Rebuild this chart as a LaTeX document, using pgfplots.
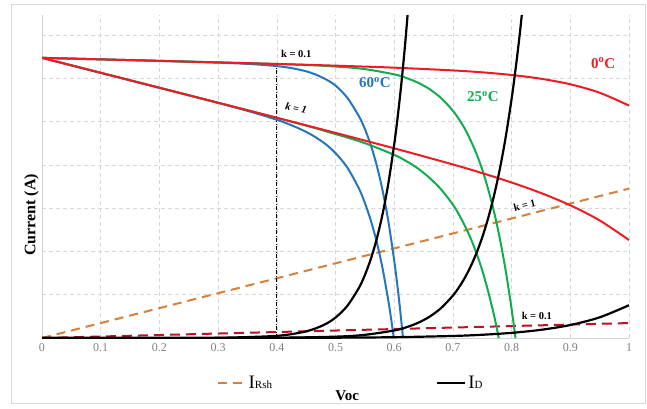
\documentclass[border=0pt]{standalone}
\usepackage{pgfplots}
\pgfplotsset{compat=1.18}
\usepackage{fontspec}
\setmainfont{Liberation Serif}

\definecolor{cRed}{RGB}{236,28,36}
\definecolor{cBlue}{RGB}{38,118,188}
\definecolor{cGreen}{RGB}{16,172,80}
\definecolor{cOrange}{RGB}{214,128,58}
\definecolor{cDarkRed}{RGB}{192,16,40}
\definecolor{cGrid}{RGB}{215,215,215}

\begin{document}
\begin{tikzpicture}[x=1pt,y=1pt]
\useasboundingbox (0,0) rectangle (647,408);
\draw[color=gray!30, line width=0.8pt] (11,5) rectangle (645,404);
\begin{axis}[
  at={(42pt,70pt)}, anchor=south west,
  scale only axis, width=587pt, height=323pt,
  xmin=0, xmax=1, ymin=0, ymax=7.46,
  xtick={0,0.1,0.2,0.3,0.4,0.5,0.6,0.7,0.8,0.9,1},
  ytick={1,2,3,4,5,6,7}, yticklabels={},
  /pgf/number format/assume math mode=true,
  ticklabel style={font=\fontsize{12}{12}\selectfont, text=gray},
  xticklabel style={yshift=-2pt},
  major tick length=0pt,
  grid=major,
  major grid style={dash pattern=on 4pt off 3pt, color=cGrid, line width=0.6pt},
  axis x line*=bottom, axis y line*=left,
  axis line style={color=gray!35, line width=0.8pt, -},
  clip=true,
  xlabel={\bfseries Voc},
  xlabel style={font=\fontsize{15}{15}\selectfont, at={(axis description cs:0.520,-0.178)}, anchor=center},
  ylabel={\bfseries Current (A)},
  ylabel style={font=\fontsize{16}{16}\selectfont, at={(axis description cs:-0.018,0.381)}, anchor=center, rotate=0},
  legend style={at={(axis description cs:0.292,-0.140)}, anchor=west, draw=none, fill=none,
    font=\fontsize{19}{19}\selectfont, legend columns=2,
    /tikz/every even column/.append style={column sep=162pt}},
  legend image code/.code={\draw[#1] (0pt,0pt) -- (28pt,0pt);},
]

% shunt currents I_Rsh for k = 1 and k = 0.1
\addplot[forget plot, color=cOrange, line width=2pt, dash pattern=on 9pt off 6pt] coordinates {(0,0) (1,3.45)};
\addplot[forget plot, color=cDarkRed, line width=2pt, dash pattern=on 10pt off 6pt] coordinates {(0,0) (1,0.345)};

% reference voltage
\addplot[forget plot, black, line width=0.7pt, dash pattern=on 4pt off 1.5pt on 1pt off 1.5pt] coordinates {(0.4,0) (0.4,6.33)};

% 60 C, k = 0.1 and k = 1
\addplot[forget plot, color=cBlue, line width=2pt, smooth] coordinates {
 (0,6.47) (0.3,6.36) (0.4,6.28) (0.45,6.16) (0.48,6.00) (0.5,5.83) (0.52,5.55)
 (0.54,5.12) (0.55,4.83) (0.56,4.46) (0.57,4.00) (0.58,3.42) (0.59,2.70)
 (0.6,1.79) (0.605,1.26) (0.61,0.665) (0.615,0)};
\addplot[forget plot, color=cBlue, line width=2pt, smooth] coordinates {
 (0,6.47) (0.3,5.43) (0.4,5.04) (0.45,4.76) (0.48,4.51) (0.5,4.27) (0.52,3.94)
 (0.54,3.45) (0.55,3.12) (0.56,2.72) (0.57,2.23) (0.58,1.62) (0.59,0.86)
 (0.595,0.42) (0.5993,0)};

% 25 C, k = 0.1 and k = 1
\addplot[forget plot, color=cGreen, line width=2pt, smooth] coordinates {
 (0,6.47) (0.4,6.33) (0.5,6.27) (0.55,6.21) (0.6,6.09) (0.62,6.01) (0.64,5.90)
 (0.66,5.75) (0.68,5.54) (0.7,5.25) (0.71,5.06) (0.72,4.84) (0.73,4.57)
 (0.74,4.26) (0.75,3.89) (0.76,3.44) (0.77,2.92) (0.78,2.29) (0.79,1.55)
 (0.8,0.67) (0.805,0.17) (0.8066,0)};
\addplot[forget plot, color=cGreen, line width=2pt, smooth] coordinates {
 (0,6.47) (0.4,5.085) (0.5,4.71) (0.55,4.50) (0.6,4.23) (0.62,4.09) (0.64,3.92)
 (0.66,3.70) (0.68,3.43) (0.7,3.08) (0.71,2.86) (0.72,2.60) (0.73,2.31)
 (0.74,1.96) (0.75,1.56) (0.76,1.08) (0.77,0.53) (0.775,0.21) (0.778,0)};

% 0 C, k = 0.1 and k = 1
\addplot[forget plot, color=cRed, line width=2pt, smooth] coordinates {
 (0,6.47) (0.1,6.4355) (0.2,6.401) (0.3,6.365) (0.4,6.329) (0.5,6.29) (0.6,6.244)
 (0.7,6.18) (0.75,6.136) (0.8,6.075) (0.85,5.988) (0.9,5.86) (0.95,5.665) (1,5.368)};
\addplot[forget plot, color=cRed, line width=2pt, smooth] coordinates {
 (0,6.47) (0.1,6.125) (0.2,5.78) (0.3,5.434) (0.4,5.087) (0.5,4.737) (0.6,4.381)
 (0.7,4.008) (0.75,3.808) (0.8,3.591) (0.85,3.349) (0.9,3.065) (0.95,2.716) (1,2.263)};

% diode currents I_D at 60 C, 25 C and 0 C
\addplot[forget plot, black, line width=2.2pt, smooth] coordinates {
 (0,0) (0.2,0.0003) (0.3,0.005) (0.4,0.05) (0.45,0.154) (0.48,0.301) (0.5,0.472)
 (0.52,0.740) (0.54,1.161) (0.55,1.453) (0.56,1.819) (0.57,2.277) (0.58,2.851)
 (0.59,3.570) (0.6,4.469) (0.605,5.0) (0.61,5.595) (0.615,6.261) (0.62,7.004) (0.625,7.836)};
\addplot[forget plot, black, line width=2.2pt, smooth] coordinates {
 (0,0) (0.3,0.0003) (0.4,0.0054) (0.5,0.031) (0.55,0.073) (0.6,0.174) (0.62,0.245)
 (0.64,0.347) (0.66,0.490) (0.68,0.693) (0.7,0.979) (0.71,1.164) (0.72,1.384)
 (0.73,1.646) (0.74,1.956) (0.75,2.325) (0.76,2.765) (0.77,3.287) (0.78,3.907)
 (0.79,4.645) (0.8,5.523) (0.805,6.022) (0.81,6.566) (0.815,7.158) (0.82,7.806)};
\addplot[forget plot, black, line width=2.2pt, smooth] coordinates {
 (0,0) (0.3,0.0012) (0.4,0.0029) (0.5,0.0074) (0.6,0.0187) (0.7,0.047) (0.75,0.075)
 (0.8,0.119) (0.85,0.189) (0.9,0.30) (0.95,0.477) (1,0.757)};

% annotations
\node[font=\bfseries\fontsize{10.5}{10.5}\selectfont] at (axis cs:0.433,6.56) {k = 0.1};
\node[font=\bfseries\itshape\fontsize{10.5}{10.5}\selectfont, rotate=-12] at (axis cs:0.433,5.31) {k = 1};
\node[font=\bfseries\fontsize{15}{15}\selectfont, text=cBlue] at (axis cs:0.567,5.89) {60\textsuperscript{o}C};
\node[font=\bfseries\fontsize{15}{15}\selectfont, text=cGreen] at (axis cs:0.751,5.57) {25\textsuperscript{o}C};
\node[font=\bfseries\fontsize{15}{15}\selectfont, text=cRed] at (axis cs:0.956,6.35) {0\textsuperscript{o}C};
\node[font=\bfseries\fontsize{10.5}{10.5}\selectfont, rotate=14] at (axis cs:0.822,3.07) {k = 1};
\node[font=\bfseries\fontsize{10.5}{10.5}\selectfont] at (axis cs:0.843,0.50) {k = 0.1};

% legend
\addlegendimage{color=cOrange, line width=2pt, dash pattern=on 9pt off 6pt}
\addlegendentry{I{\fontsize{11}{11}\selectfont Rsh}}
\addlegendimage{black, line width=2.2pt}
\addlegendentry{I{\fontsize{11}{11}\selectfont D}}
\end{axis}
\end{tikzpicture}
\end{document}
